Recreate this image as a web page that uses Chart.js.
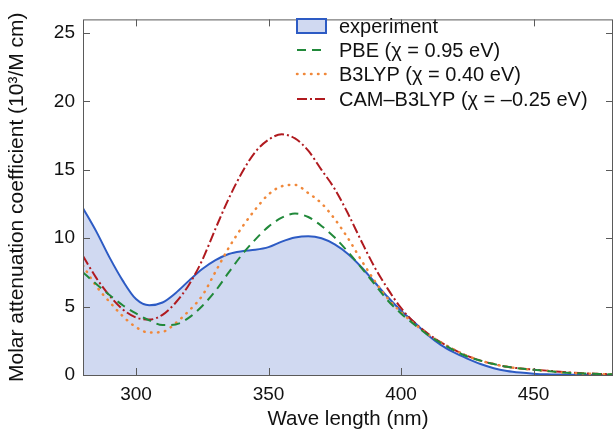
<!DOCTYPE html>
<html>
<head>
<meta charset="utf-8">
<script src="https://cdn.jsdelivr.net/npm/chart.js@4.4.1/dist/chart.umd.min.js"></script>
<style>
  html, body { margin: 0; padding: 0; background: #ffffff; }
  #wrap { width: 614px; height: 437px; }
</style>
</head>
<body>
<div id="wrap"><canvas id="absChart"></canvas></div>
<script>
// wavelength grid (nm)
const wavelength = [
  280, 285, 290, 295, 300, 305, 310, 315, 320, 325,
  330, 335, 340, 345, 350, 355, 360, 365, 370, 375,
  380, 385, 390, 395, 400, 405, 410, 415, 420, 425,
  430, 435, 440, 445, 450, 455, 460, 465, 470, 475, 480
];

// molar attenuation coefficient, 10^3 / M cm
const experiment = [
  12.2, 10.5, 8.6, 6.9, 5.55, 5.1, 5.3, 6.0, 6.9, 7.75,
  8.4, 8.85, 9.05, 9.15, 9.35, 9.75, 10.05, 10.15, 10.0, 9.55,
  8.85, 7.9, 6.8, 5.7, 4.7, 3.85, 2.95, 2.2, 1.65, 1.2,
  0.8, 0.5, 0.3, 0.18, 0.1, 0.05, 0.03, 0.02, 0.01, 0, 0
];

const pbe = [
  7.5, 6.65, 5.85, 5.1, 4.5, 4.0, 3.65, 3.7, 4.2, 5.05,
  6.15, 7.5, 8.8, 9.9, 10.85, 11.5, 11.8, 11.55, 10.9, 10.05,
  9.0, 7.85, 6.65, 5.45, 4.5, 3.7, 2.95, 2.35, 1.8, 1.35,
  1.05, 0.8, 0.6, 0.47, 0.38, 0.3, 0.2, 0.14, 0.1, 0.07, 0.05
];

const b3lyp = [
  8.0, 6.5, 5.35, 4.3, 3.5, 3.1, 3.15, 3.8, 4.7, 5.8,
  7.55, 9.3, 10.8, 12.1, 13.2, 13.8, 13.9, 13.3, 12.55, 11.4,
  10.0, 8.4, 6.9, 5.6, 4.6, 3.75, 3.0, 2.4, 1.85, 1.4,
  1.05, 0.8, 0.6, 0.47, 0.38, 0.3, 0.2, 0.14, 0.1, 0.07, 0.05
];

const camB3lyp = [
  8.7, 7.1, 5.8, 4.8, 4.2, 4.05, 4.4, 5.3, 6.6, 8.4,
  10.7, 12.9, 14.8, 16.3, 17.2, 17.6, 17.3, 16.4, 15.0, 13.6,
  11.8, 9.8, 7.9, 6.3, 4.9, 3.85, 3.05, 2.4, 1.85, 1.4,
  1.05, 0.8, 0.6, 0.48, 0.4, 0.32, 0.24, 0.17, 0.12, 0.08, 0.05
];

const seriesLabels = [
  "experiment",
  "PBE (\u03C7 = 0.95 eV)",
  "B3LYP (\u03C7 = 0.40 eV)",
  "CAM\u2013B3LYP (\u03C7 = \u20130.25 eV)"
];

const xTicks = [300, 350, 400, 450];
const yTicks = [0, 5, 10, 15, 20, 25];

const FONT = "'Liberation Sans', Arial, Helvetica, sans-serif";

function toPoints(values) {
  return values.map((v, i) => ({ x: wavelength[i], y: v }));
}

// =====================================
// FRAME, INWARD TICKS AND LEGEND
// =====================================

const framePlugin = {
  id: "frame",
  afterDatasetsDraw(chart) {
    const ctx = chart.ctx;
    const a = chart.chartArea;
    const xs = chart.scales.x;
    const ys = chart.scales.y;

    ctx.save();
    ctx.strokeStyle = "#5a5a5a";
    ctx.lineWidth = 1;
    ctx.strokeRect(a.left + 0.5, a.top + 0.5, a.right - a.left - 1, a.bottom - a.top);

    ctx.beginPath();
    xTicks.forEach(t => {
      const px = Math.round(xs.getPixelForValue(t)) + 0.5;
      ctx.moveTo(px, a.bottom);
      ctx.lineTo(px, a.bottom - 7);
      ctx.moveTo(px, a.top);
      ctx.lineTo(px, a.top + 7);
    });
    yTicks.forEach(t => {
      const py = Math.round(ys.getPixelForValue(t)) + 0.5;
      ctx.moveTo(a.left, py);
      ctx.lineTo(a.left + 7, py);
      ctx.moveTo(a.right, py);
      ctx.lineTo(a.right - 7, py);
    });
    ctx.stroke();

    // legend
    const lx = 297;
    const rows = [26, 50, 74, 99];
    ctx.font = "20px " + FONT;
    ctx.textBaseline = "middle";
    ctx.textAlign = "left";

    chart.data.datasets.forEach((ds, i) => {
      const y = rows[i];
      if (i === 0) {
        ctx.fillStyle = ds.backgroundColor;
        ctx.fillRect(lx, y - 7, 29, 14);
        ctx.strokeStyle = ds.borderColor;
        ctx.lineWidth = 2;
        ctx.setLineDash([]);
        ctx.strokeRect(lx, y - 7, 29, 14);
      } else {
        ctx.strokeStyle = ds.borderColor;
        ctx.lineWidth = ds.borderWidth;
        ctx.lineCap = ds.borderCapStyle || "butt";
        ctx.setLineDash(ds.borderDash || []);
        ctx.beginPath();
        ctx.moveTo(lx, y);
        ctx.lineTo(lx + 29, y);
        ctx.stroke();
      }
      ctx.fillStyle = "#111111";
      ctx.fillText(ds.label, lx + 42, y + 1);
    });
    ctx.restore();
  }
};

new Chart(document.getElementById("absChart"), {
  type: "line",
  data: {
    datasets: [
      {
        label: seriesLabels[0],
        data: toPoints(experiment),
        borderColor: "#2d5bc4",
        backgroundColor: "#d0d9f1",
        borderWidth: 2,
        fill: "origin",
        order: 10
      },
      {
        label: seriesLabels[1],
        data: toPoints(pbe),
        borderColor: "#21893a",
        borderWidth: 2,
        borderDash: [9, 6],
        fill: false,
        order: 1
      },
      {
        label: seriesLabels[2],
        data: toPoints(b3lyp),
        borderColor: "#f0883a",
        borderWidth: 2.5,
        borderDash: [0.5, 6.5],
        borderCapStyle: "round",
        fill: false,
        order: 1
      },
      {
        label: seriesLabels[3],
        data: toPoints(camB3lyp),
        borderColor: "#b01a1f",
        borderWidth: 2,
        borderDash: [10, 3, 2, 3],
        fill: false,
        order: 1
      }
    ]
  },
  options: {
    responsive: true,
    maintainAspectRatio: false,
    animation: false,
    events: [],
    layout: { padding: { top: 7, right: 1, left: 0, bottom: 0 } },
    elements: {
      point: { radius: 0 },
      line: { tension: 0.4, cubicInterpolationMode: "monotone" }
    },
    plugins: {
      legend: { display: false },
      tooltip: { enabled: false }
    },
    scales: {
      x: {
        type: "linear",
        min: 280,
        max: 480,
        afterFit: s => { s.height = 62; },
        afterBuildTicks: s => { s.ticks = xTicks.map(v => ({ value: v })); },
        grid: { display: false, drawTicks: false },
        border: { display: false },
        ticks: {
          color: "#111111",
          padding: 8,
          font: { family: FONT, size: 19 }
        },
        title: {
          display: true,
          text: "Wave length (nm)",
          color: "#111111",
          padding: { top: 0, bottom: 5 },
          font: { family: FONT, size: 20.5 }
        }
      },
      y: {
        min: 0,
        max: 26,
        afterFit: s => { s.width = 83; },
        afterBuildTicks: s => { s.ticks = yTicks.map(v => ({ value: v })); },
        grid: { display: false, drawTicks: false },
        border: { display: false },
        ticks: {
          color: "#111111",
          padding: 8,
          font: { family: FONT, size: 19 }
        },
        title: {
          display: true,
          text: "Molar attenuation coefficient (10\u00B3/M cm)",
          color: "#111111",
          padding: { top: 5, bottom: 0 },
          font: { family: FONT, size: 21 }
        }
      }
    }
  },
  plugins: [framePlugin]
});
</script>
</body>
</html>
